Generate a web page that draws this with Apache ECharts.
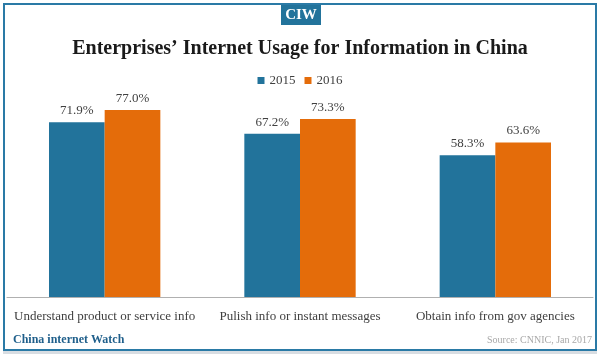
<!DOCTYPE html>
<html><head><meta charset="utf-8">
<script src="https://cdn.jsdelivr.net/npm/echarts@6/dist/echarts.min.js"></script>
<style>html,body{margin:0;padding:0;background:#fff;}#c{width:600px;height:359px;}</style>
</head><body><div id="c"></div>
<script>
var categories = ['Understand product or service info', 'Pulish info or instant messages', 'Obtain info from gov agencies'];
var seriesNames = ['2015', '2016'];
var values2015 = [71.9, 67.2, 58.3];
var values2016 = [77.0, 73.3, 63.6];
var colors = ['#22739b', '#e46c0a'];
var serif = '"Liberation Serif", "DejaVu Serif", serif';

var chart = echarts.init(document.getElementById('c'));
function mk(name, data, color) {
  return {
    name: name, type: 'bar', data: data, barGap: '0%', barCategoryGap: '43%',
    itemStyle: { color: color },
    label: { show: true, position: 'top', distance: 5, formatter: function (p) { return p.value.toFixed(1) + '%'; }, color: '#404040', fontFamily: serif, fontSize: 13 },
    animation: false
  };
}
chart.setOption({
  animation: false,
  title: {
    text: 'Enterprises\u2019 Internet Usage for Information in China',
    left: 'center', top: 34,
    textStyle: { fontFamily: serif, fontWeight: 'bold', fontSize: 20, color: '#1a1a1a' }
  },
  legend: {
    data: seriesNames, top: 69, left: 'center', itemWidth: 7, itemHeight: 7, itemGap: 9,
    icon: 'rect',
    textStyle: { fontFamily: serif, fontSize: 13, color: '#404040' }
  },
  grid: { left: 7, right: 7, top: 54, bottom: 62, containLabel: false },
  xAxis: {
    type: 'category', data: categories,
    axisLine: { lineStyle: { color: '#b0b0b0', width: 1 } },
    axisTick: { show: false },
    axisLabel: { fontFamily: serif, fontSize: 13, color: '#404040', margin: 13, interval: 0 }
  },
  yAxis: { type: 'value', min: 0, max: 100, show: false, splitLine: { show: false } },
  series: [mk(seriesNames[0], values2015, colors[0]), mk(seriesNames[1], values2016, colors[1])],
  graphic: [
    { type: 'rect', shape: { x: 4, y: 4, width: 592, height: 346 }, style: { fill: 'none', stroke: '#2a7aa6', lineWidth: 2 }, z: 10 },
    { type: 'rect', shape: { x: 3, y: 351, width: 594, height: 3 }, style: { fill: '#d8dde2' }, z: 9 },
    { type: 'rect', shape: { x: 281, y: 5, width: 40, height: 20 }, style: { fill: '#22739b' }, z: 11 },
    { type: 'text', x: 301, y: 15, style: { text: 'CIW', fill: '#fff', font: 'bold 15px ' + serif, align: 'center', verticalAlign: 'middle' }, z: 12 },
    { type: 'text', x: 13, y: 340, style: { text: 'China internet Watch', fill: '#1f5f8b', font: 'bold 12px ' + serif, verticalAlign: 'middle' }, z: 12 },
    { type: 'text', x: 592, y: 340, style: { text: 'Source: CNNIC, Jan 2017', fill: '#a8a8a8', font: '10px ' + serif, align: 'right', verticalAlign: 'middle' }, z: 12 }
  ]
});
</script></body></html>
